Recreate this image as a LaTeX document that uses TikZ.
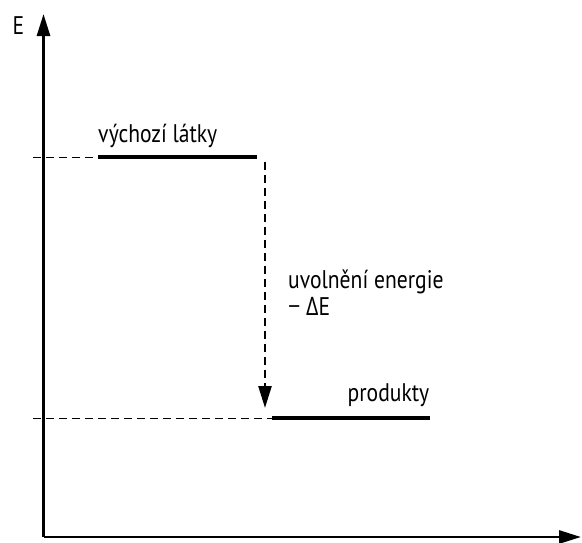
\documentclass[tikz,border=0pt]{standalone}
\usepackage{fontspec}
\setmainfont{PT Sans}
\newfontfamily\grk{Open Sans}
\usetikzlibrary{arrows.meta}
\begin{document}
\begin{tikzpicture}[x=1pt,y=-1pt,
  axis/.style={line width=2.8pt,-{Triangle[length=22pt,width=13pt]}},
  level/.style={line width=4pt},
  guide/.style={line width=0.8pt,dash pattern=on 8pt off 5pt},
  drop/.style={line width=2.4pt,dash pattern=on 8pt off 5pt,-{Triangle[length=22pt,width=13pt]}},
  lbl/.style={font=\fontsize{21.6pt}{24pt}\selectfont,inner sep=0pt,yscale=1.18}]
\useasboundingbox (0,0) rectangle (582,542);
% axes
\coordinate (O) at (43.5,537);
\coordinate (Etop) at (43.5,14);
\coordinate (Xend) at (581,537);
\draw[axis] (O) -- (Etop);
\draw[axis] (O) -- (Xend);
\node[lbl,anchor=base west] (E) at (12.5,34.3) {E};
% energy levels
\coordinate (rL) at (98,157);
\coordinate (rR) at (257,157);
\coordinate (pL) at (272,418);
\coordinate (pR) at (430,418);
\coordinate (gr) at (33,157);
\coordinate (gp) at (33,418);
\draw[guide] (gr) -- (rL);
\draw[guide] (gp) -- (pL);
\draw[level] (rL) -- (rR);
\draw[level] (pL) -- (pR);
% energy release
\coordinate (dTop) at (265,162);
\coordinate (dBot) at (265,408);
\draw[drop] (dTop) -- (dBot);
% labels
\node[lbl,anchor=base west] (react) at (98,142.3) {výchozí látky};
\node[lbl,anchor=base east] (prod) at (429.5,401.7) {produkty};
\node[lbl,anchor=base west] (rel) at (288,288.3) {uvolnění energie};
\node[lbl,anchor=base west] (dE) at (288,315) {{\grk − Δ}E};
\end{tikzpicture}
\end{document}
